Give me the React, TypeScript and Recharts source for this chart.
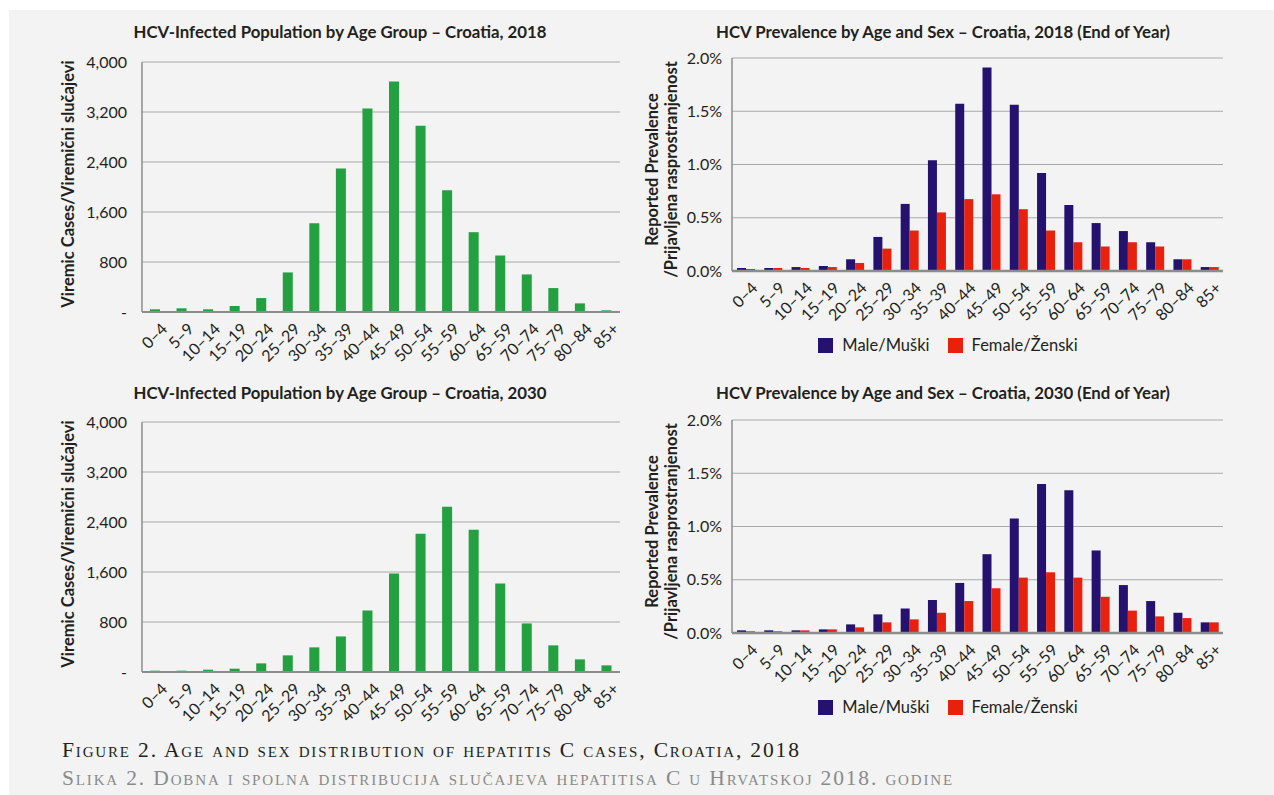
import React from "react";
import { BarChart, Bar, XAxis, YAxis, CartesianGrid, Legend } from "recharts";

const ageGroups = [
  "0–4", "5–9", "10–14", "15–19", "20–24", "25–29", "30–34", "35–39", "40–44",
  "45–49", "50–54", "55–59", "60–64", "65–59", "70–74", "75–79", "80–84", "85+",
];

// viremic cases
const cases2018 = [43, 59, 43, 96, 223, 633, 1420, 2298, 3256, 3687, 2979, 1947, 1277, 904, 601, 383, 138, 27];
const cases2030 = [21, 21, 37, 53, 138, 266, 394, 569, 984, 1575, 2213, 2644, 2277, 1415, 777, 426, 202, 106];

// reported prevalence, %
const male2018 = [0.028, 0.028, 0.037, 0.047, 0.11, 0.32, 0.63, 1.04, 1.57, 1.91, 1.56, 0.92, 0.62, 0.45, 0.375, 0.27, 0.11, 0.037];
const female2018 = [0.019, 0.028, 0.028, 0.037, 0.075, 0.21, 0.38, 0.55, 0.675, 0.72, 0.58, 0.38, 0.27, 0.23, 0.27, 0.23, 0.11, 0.037];
const male2030 = [0.025, 0.025, 0.025, 0.034, 0.081, 0.175, 0.23, 0.31, 0.47, 0.74, 1.075, 1.4, 1.34, 0.775, 0.45, 0.3, 0.19, 0.1];
const female2030 = [0.016, 0.016, 0.025, 0.034, 0.053, 0.1, 0.128, 0.19, 0.3, 0.42, 0.52, 0.57, 0.52, 0.34, 0.21, 0.156, 0.14, 0.1];

const caseTicks = [0, 800, 1600, 2400, 3200, 4000];
const prevTicks = [0, 0.5, 1, 1.5, 2];

const FONT = "Lato, 'Open Sans', sans-serif";
const INK = "#231f20";
const GREEN = "#23a03f";
const NAVY = "#25126f";
const RED = "#e8200e";
const GRID = "#a9a9a9";
const AXIS = "#8c8c8c";

const AgeTick = ({ x, y, payload }: any) => (
  <text
    x={x + 5}
    y={y + 2}
    transform={`rotate(-45 ${x + 5} ${y + 2})`}
    textAnchor="end"
    dy="0.71em"
    fontSize={16}
    fontFamily={FONT}
    fill={INK}
  >
    {payload.value}
  </text>
);

const AxisTitle = ({ viewBox, lines, cx, shift = 0 }: any) => {
  const cy = viewBox.y + viewBox.height / 2 + shift;
  return (
    <g>
      {lines.map((l: string, i: number) => {
        const x = cx + i * 19;
        return (
          <text
            key={i}
            x={x}
            y={cy}
            transform={`rotate(-90 ${x} ${cy})`}
            textAnchor="middle"
            dominantBaseline="central"
            fontSize={16.5}
            fontWeight={700}
            fontFamily={FONT}
            fill={INK}
          >
            {l}
          </text>
        );
      })}
    </g>
  );
};

const SexLegend = () => (
  <div style={{ display: "flex", justifyContent: "center", fontFamily: FONT, fontSize: 16.5, color: INK }}>
    {[
      { name: "Male/Muški", color: NAVY },
      { name: "Female/Ženski", color: RED },
    ].map((it) => (
      <div key={it.name} style={{ display: "flex", alignItems: "center", marginRight: 18 }}>
        <span style={{ width: 15, height: 15, background: it.color, display: "inline-block", marginRight: 9 }} />
        <span>{it.name}</span>
      </div>
    ))}
  </div>
);

const Title = ({ text, cx, cy }: any) => (
  <div
    style={{
      position: "absolute",
      left: cx - 300,
      width: 600,
      top: cy - 10,
      height: 20,
      lineHeight: "20px",
      textAlign: "center",
      fontFamily: FONT,
      fontWeight: 700,
      fontSize: 16.8,
      color: INK,
      whiteSpace: "nowrap",
    }}
  >
    {text}
  </div>
);

function CasesChart({ values, top }: { values: number[]; top: number }) {
  const data = ageGroups.map((g, i) => ({ age: g, cases: values[i] }));
  return (
    <div style={{ position: "absolute", left: 0, top, width: 640, height: 360 }}>
      <BarChart width={640} height={360} data={data} margin={{ top: 52, right: 20, bottom: 8, left: 62 }}>
        <CartesianGrid vertical={false} stroke={GRID} strokeWidth={1} />
        <XAxis
          dataKey="age"
          interval={0}
          height={50}
          tickLine={false}
          axisLine={{ stroke: AXIS, strokeWidth: 2 }}
          tick={<AgeTick />}
        />
        <YAxis
          width={80}
          domain={[0, 4000]}
          ticks={caseTicks}
          tickLine={false}
          tickMargin={9}
          axisLine={{ stroke: AXIS, strokeWidth: 1.5 }}
          tickFormatter={(v: number) => (v === 0 ? "-" : v.toLocaleString("en-US"))}
          tick={{ fontSize: 16, fontFamily: FONT, fill: INK }}
          label={<AxisTitle lines={["Viremic Cases/Viremični slučajevi"]} cx={68} shift={-3} />}
        />
        <Bar dataKey="cases" fill={GREEN} barSize={10} isAnimationActive={false} />
      </BarChart>
    </div>
  );
}

function PrevalenceChart({ male, female, top, mTop, mBottom }: any) {
  const data = ageGroups.map((g, i) => ({ age: g, male: male[i], female: female[i] }));
  return (
    <div style={{ position: "absolute", left: 640, top, width: 634, height: 360 }}>
      <BarChart
        width={634}
        height={360}
        data={data}
        barGap={0}
        margin={{ top: mTop, right: 51, bottom: mBottom, left: 12 }}
      >
        <CartesianGrid vertical={false} stroke={GRID} strokeWidth={1} />
        <XAxis
          dataKey="age"
          interval={0}
          height={50}
          tickLine={false}
          axisLine={{ stroke: AXIS, strokeWidth: 2.5 }}
          tick={<AgeTick />}
        />
        <YAxis
          width={80}
          domain={[0, 2]}
          ticks={prevTicks}
          tickLine={false}
          tickMargin={4}
          axisLine={{ stroke: AXIS, strokeWidth: 1.5 }}
          tickFormatter={(v: number) => `${v.toFixed(1)}%`}
          tick={{ fontSize: 16, fontFamily: FONT, fill: INK }}
          label={<AxisTitle lines={["Reported Prevalence", "/Prijavljena rasprostranjenost"]} cx={12} shift={5} />}
        />
        <Legend
          layout="horizontal"
          verticalAlign="middle"
          align="center"
          wrapperStyle={{ top: mTop + 213 + 64, left: 0, width: 634 }}
          content={<SexLegend />}
        />
        <Bar dataKey="male" name="Male/Muški" fill={NAVY} barSize={9} isAnimationActive={false} />
        <Bar dataKey="female" name="Female/Ženski" fill={RED} barSize={9} isAnimationActive={false} />
      </BarChart>
    </div>
  );
}

const captionStyle: React.CSSProperties = {
  fontFamily: "'Liberation Serif', serif",
  fontVariant: "small-caps",
  fontSize: 21.5,
  letterSpacing: 1.85,
  lineHeight: "28px",
  whiteSpace: "nowrap",
};

export default function App() {
  return (
    <div style={{ position: "absolute", left: 0, top: 0, width: 1274, height: 795, background: "#fff", overflow: "hidden" }}>
      <div style={{ position: "absolute", left: 9, top: 10, right: 0, bottom: 0, background: "#f2f3f2" }} />
      <Title text="HCV-Infected Population by Age Group – Croatia, 2018" cx={340} cy={32} />
      <Title text="HCV Prevalence by Age and Sex – Croatia, 2018 (End of Year)" cx={943} cy={32} />
      <Title text="HCV-Infected Population by Age Group – Croatia, 2030" cx={340} cy={393} />
      <Title text="HCV Prevalence by Age and Sex – Croatia, 2030 (End of Year)" cx={943} cy={393} />
      <CasesChart values={cases2018} top={10} />
      <CasesChart values={cases2030} top={370} />
      <PrevalenceChart male={male2018} female={female2018} top={10} mTop={48} mBottom={49} />
      <PrevalenceChart male={male2030} female={female2030} top={370} mTop={50} mBottom={47} />
      <div style={{ position: "absolute", left: 62, top: 736 }}>
        <div style={{ ...captionStyle, color: INK }}>
          Figure 2. Age and sex distribution of hepatitis C cases, Croatia, 2018
        </div>
        <div style={{ ...captionStyle, color: "#8a8a8a" }}>
          Slika 2. Dobna i spolna distribucija slučajeva hepatitisa C u Hrvatskoj 2018. godine
        </div>
      </div>
    </div>
  );
}
